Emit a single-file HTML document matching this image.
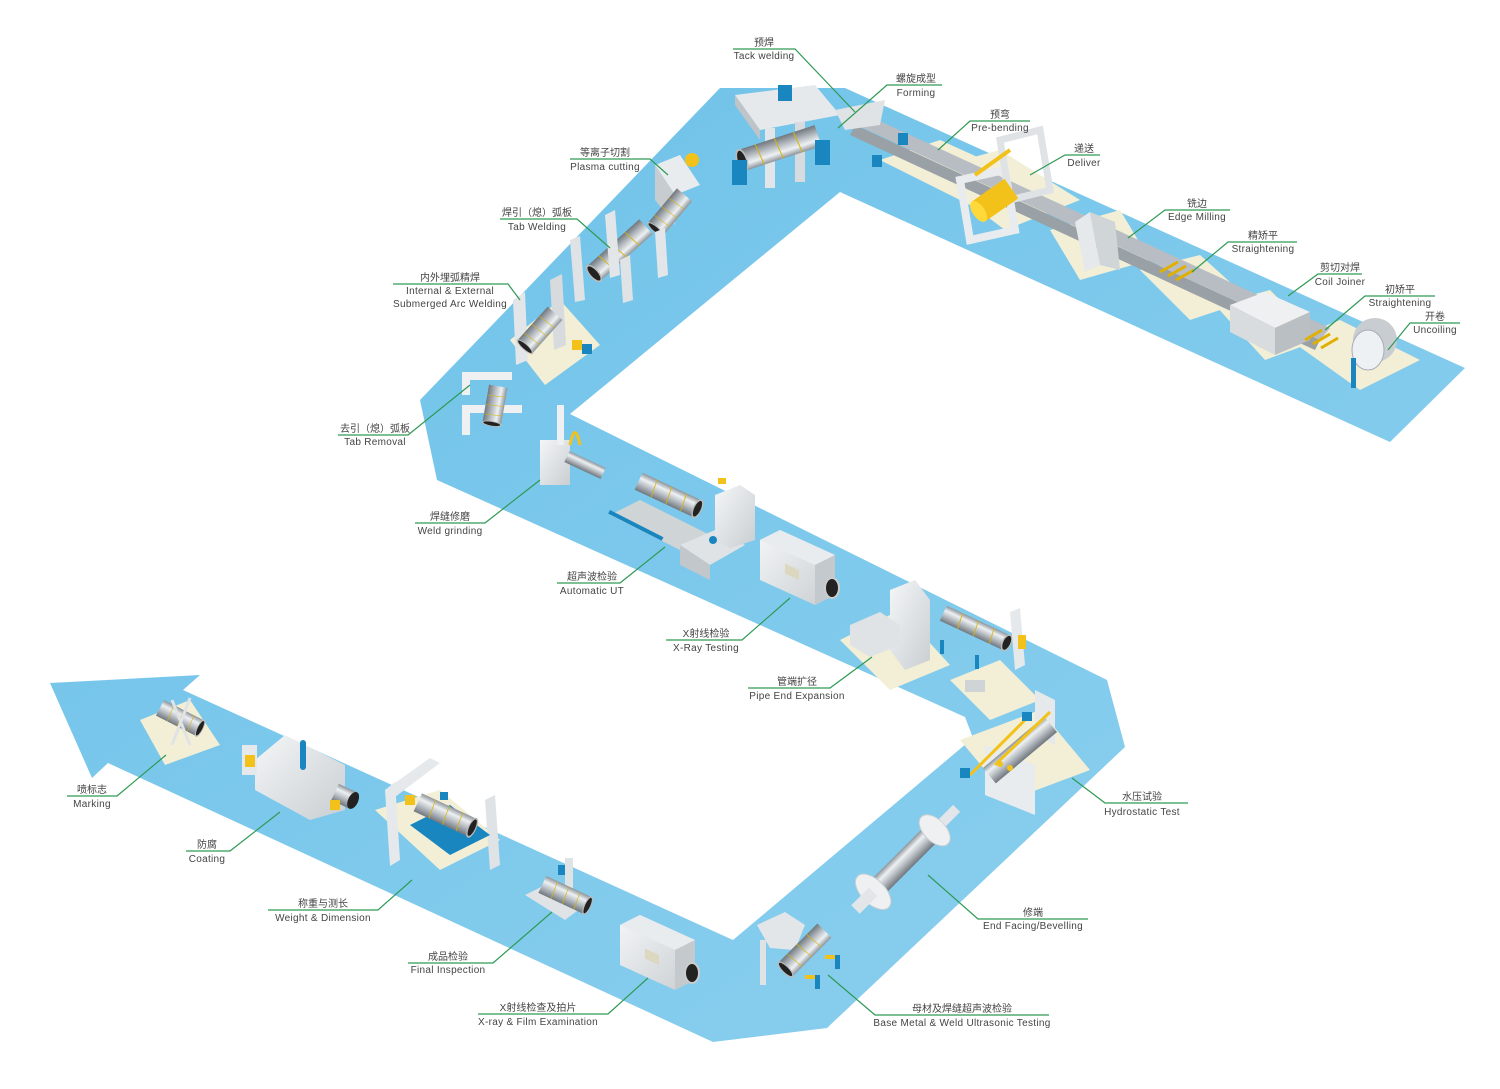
<!DOCTYPE html>
<html><head><meta charset="utf-8">
<style>
html,body{margin:0;padding:0;background:#fff;}
svg{display:block;}
text{font-family:"Liberation Sans","Noto Sans CJK SC",sans-serif;fill:#444;font-size:10px;}
.cn{font-size:10px;}
.en{font-size:10px;letter-spacing:0.3px;}
.ld{stroke:#2f9a55;stroke-width:1.2;fill:none;}
</style></head><body>
<svg width="1500" height="1089" viewBox="0 0 1500 1089" xmlns="http://www.w3.org/2000/svg">
<defs>
<linearGradient id="band" x1="0" y1="0" x2="1" y2="1">
<stop offset="0" stop-color="#6cc0e8"/><stop offset="0.5" stop-color="#7dc9ec"/><stop offset="1" stop-color="#8fd0ee"/>
</linearGradient>
<linearGradient id="steel" x1="0" y1="0" x2="0" y2="1">
<stop offset="0" stop-color="#8c9399"/><stop offset="0.3" stop-color="#eef1f3"/><stop offset="0.6" stop-color="#b9bfc4"/><stop offset="1" stop-color="#70777d"/>
</linearGradient>
<linearGradient id="box" x1="0" y1="0" x2="1" y2="1">
<stop offset="0" stop-color="#f4f6f7"/><stop offset="1" stop-color="#c9ced2"/>
</linearGradient>
<g id="pipe">
<rect x="-50" y="-11" width="100" height="22" fill="url(#steel)"/>
<line x1="-25" y1="-11" x2="-22" y2="11" stroke="#d8b400" stroke-width="1.2"/>
<line x1="0" y1="-11" x2="3" y2="11" stroke="#d8b400" stroke-width="1.2"/>
<line x1="25" y1="-11" x2="28" y2="11" stroke="#d8b400" stroke-width="1.2"/>
<ellipse cx="50" cy="0" rx="6" ry="11" fill="#222" stroke="#bbb" stroke-width="2"/>
</g>
<g id="xray">
<polygon points="0,10 20,0 75,25 75,65 55,75 0,50" fill="url(#box)"/>
<polygon points="0,10 20,0 75,25 55,35" fill="#e9ecee"/>
<polygon points="55,35 75,25 75,65 55,75" fill="#c3c9cd"/>
<rect x="25" y="22" width="14" height="10" fill="#dcd8c0" transform="skewY(25)"/>
<ellipse cx="72" cy="58" rx="7" ry="10" fill="#222" stroke="#ccc" stroke-width="2"/>
</g>
</defs>

<!-- Band -->
<polygon fill="url(#band)" points="720,88 845,88 1465,368 1390,442 840,192 570,414 1107,680 1125,747 827,1028 713,1042 108,763 92,778 50,683 200,675 183,690 733,940 973,738 965,717 437,480 420,400"/>

<!-- platforms (cream) -->
<g fill="#f2efd6">
<polygon points="880,160 940,140 1050,190 990,215"/>
<polygon points="925,170 1000,150 1080,200 1005,230"/>
<polygon points="1050,230 1120,210 1150,260 1080,280"/>
<polygon points="1140,270 1200,255 1250,300 1190,320"/>
<polygon points="1215,305 1270,290 1320,340 1265,360"/>
<polygon points="1290,340 1340,320 1420,360 1360,390"/>
<polygon points="510,340 560,300 600,345 545,385"/>
<polygon points="840,640 900,610 950,665 890,690"/>
<polygon points="950,680 1000,660 1040,700 990,720"/>
<polygon points="960,740 1040,710 1090,770 1010,800"/>
<polygon points="375,810 440,790 500,840 440,870"/>
<polygon points="140,720 190,700 220,745 165,765"/>
</g>

<!-- steel strip top -->
<polygon points="850,122 860,112 1330,328 1320,340" fill="#b7bdc2"/>
<polygon points="855,125 1320,340 1315,350 850,135" fill="#9aa1a6"/>

<!-- Tack welding / forming -->
<polygon points="735,95 815,85 840,115 760,130" fill="#e6e9eb"/>
<polygon points="735,95 760,130 760,140 735,105" fill="#bfc4c8"/>
<rect x="765" y="128" width="10" height="60" fill="#e3e6e8"/>
<rect x="795" y="122" width="10" height="60" fill="#d7dbde"/>
<rect x="778" y="85" width="14" height="16" fill="#1a86c0"/>
<g transform="translate(780,148) rotate(162)"><use href="#pipe" transform="scale(0.8,1)"/></g>
<rect x="732" y="160" width="15" height="25" fill="#1a86c0"/>
<rect x="815" y="140" width="15" height="25" fill="#1a86c0"/>
<polygon points="835,110 885,100 880,125 845,130" fill="#dfe3e5"/>
<rect x="898" y="133" width="10" height="12" fill="#1a86c0"/>
<rect x="872" y="155" width="10" height="12" fill="#1a86c0"/>
<!-- pre-bending frame -->
<polygon points="960,180 1005,170 1015,230 970,240" fill="none" stroke="#e9ecee" stroke-width="8"/>
<polygon points="1000,140 1040,130 1050,190 1010,200" fill="none" stroke="#dfe3e5" stroke-width="7"/>
<g transform="translate(995,200) rotate(-35)"><rect x="-20" y="-12" width="40" height="24" fill="#f2c21a"/><ellipse cx="-20" cy="0" rx="6" ry="12" fill="#ffd83a"/></g>
<line x1="975" y1="175" x2="1010" y2="150" stroke="#f2c21a" stroke-width="4"/>
<!-- edge milling -->
<polygon points="1075,222 1090,212 1100,265 1085,272" fill="#e6e9eb"/>
<polygon points="1090,212 1115,222 1120,270 1100,265" fill="#d0d5d8"/>
<g stroke="#e0b000" stroke-width="3"><line x1="1160" y1="272" x2="1178" y2="262"/><line x1="1168" y1="276" x2="1186" y2="266"/><line x1="1176" y1="280" x2="1194" y2="270"/></g>
<!-- coil joiner -->
<polygon points="1230,305 1265,292 1310,312 1275,328" fill="#eef0f1"/>
<polygon points="1230,305 1275,328 1275,355 1230,332" fill="#d8dcdf"/>
<polygon points="1275,328 1310,312 1310,340 1275,355" fill="#b9bfc3"/>
<g stroke="#e0b000" stroke-width="3"><line x1="1305" y1="340" x2="1322" y2="330"/><line x1="1313" y1="344" x2="1330" y2="334"/><line x1="1321" y1="348" x2="1338" y2="338"/></g>
<ellipse cx="1375" cy="340" rx="22" ry="22" fill="#c8cdd1"/>
<ellipse cx="1368" cy="350" rx="16" ry="20" fill="#eef1f3" stroke="#aab" stroke-width="1"/>
<rect x="1351" y="358" width="5" height="30" fill="#1a86c0"/>

<!-- Plasma cutting -->
<polygon points="655,165 680,155 700,185 675,195" fill="#e9ecee"/>
<polygon points="655,165 675,195 675,225 655,200" fill="#c7ccd0"/>
<circle cx="692" cy="160" r="7" fill="#f2c21a"/>
<g transform="translate(670,212) rotate(130)"><use href="#pipe" transform="scale(0.45,0.9)"/></g>
<!-- Tab welding -->
<g transform="translate(620,250) rotate(138)"><use href="#pipe" transform="scale(0.7,0.9)"/></g>
<polygon points="605,215 615,210 620,275 610,278" fill="#e3e6e8"/>
<polygon points="655,232 665,228 668,275 658,278" fill="#e3e6e8"/>
<polygon points="570,240 580,236 585,300 575,302" fill="#dfe3e5"/>
<polygon points="620,260 630,255 633,300 623,303" fill="#dfe3e5"/>
<!-- SAW -->
<polygon points="513,300 525,292 528,360 516,365" fill="#e3e6e8"/>
<polygon points="550,280 562,274 566,345 554,350" fill="#d7dbde"/>
<g transform="translate(540,330) rotate(132)"><use href="#pipe" transform="scale(0.45,0.9)"/></g>
<rect x="572" y="340" width="10" height="10" fill="#f2c21a"/><rect x="582" y="344" width="10" height="10" fill="#1a86c0"/>
<!-- Tab removal -->
<polygon points="462,372 512,372 512,380 470,380 470,395 462,395" fill="#eef0f1"/>
<polygon points="462,405 522,405 522,413 470,413 470,435 462,435" fill="#eef0f1"/>
<g transform="translate(495,405) rotate(100)"><use href="#pipe" transform="scale(0.38,0.85)"/></g>
<!-- Weld grinding -->
<rect x="540" y="440" width="30" height="45" fill="url(#box)"/>
<rect x="557" y="405" width="7" height="40" fill="#eef0f1"/>
<g transform="translate(585,465) rotate(25)"><rect x="-20" y="-6" width="40" height="12" fill="url(#steel)"/></g>
<path d="M570,445 Q575,420 580,445" stroke="#f2c21a" stroke-width="3" fill="none"/>
<!-- Automatic UT -->
<polygon points="610,515 640,500 720,540 690,555" fill="#cfd4d7"/>
<rect x="610" y="510" width="60" height="4" fill="#1a86c0" transform="rotate(27 610 510)"/>
<g transform="translate(668,495) rotate(25)"><use href="#pipe" transform="scale(0.65,0.85)"/></g>
<polygon points="680,545 715,530 745,545 710,565" fill="#dfe3e5"/>
<polygon points="680,545 710,565 710,580 680,565" fill="#c2c7cb"/>
<polygon points="715,495 740,485 755,495 755,540 730,548 715,540" fill="url(#box)"/>
<circle cx="713" cy="540" r="4" fill="#1a86c0"/>
<rect x="718" y="478" width="8" height="6" fill="#f2c21a"/>
<!-- X-ray testing -->
<use href="#xray" transform="translate(760,530)"/>
<!-- Pipe End Expansion -->
<polygon points="890,590 915,580 930,600 930,660 905,670 890,650" fill="url(#box)"/>
<polygon points="850,625 880,612 900,625 900,645 870,657 850,645" fill="#dfe3e5"/>
<g transform="translate(975,628) rotate(25)"><use href="#pipe" transform="scale(0.7,0.75)"/></g>
<polygon points="1010,612 1020,608 1025,665 1015,670" fill="#e6e9eb"/>
<rect x="1018" y="635" width="8" height="14" fill="#f2c21a"/>
<rect x="940" y="640" width="4" height="14" fill="#1a86c0"/><rect x="975" y="655" width="4" height="14" fill="#1a86c0"/>
<rect x="965" y="680" width="20" height="12" fill="#cfd4d7"/>

<!-- Hydrostatic -->
<polygon points="985,745 1035,765 1035,815 985,795" fill="#e9ecee"/>
<polygon points="1035,690 1055,700 1055,745 1035,735" fill="#e6e9eb"/>
<g transform="translate(1020,750) rotate(-40)"><rect x="-40" y="-10" width="80" height="20" fill="url(#steel)"/></g>
<line x1="970" y1="775" x2="1025" y2="720" stroke="#f2c21a" stroke-width="3"/>
<line x1="995" y1="765" x2="1050" y2="712" stroke="#f2c21a" stroke-width="3"/>
<rect x="960" y="768" width="10" height="10" fill="#1a86c0"/><rect x="1022" y="712" width="10" height="9" fill="#1a86c0"/>
<circle cx="1000" cy="764" r="3" fill="#f2c21a"/><circle cx="1010" cy="768" r="3" fill="#f2c21a"/>
<!-- End facing -->
<g transform="translate(905,860) rotate(-45)">
<rect x="-45" y="-10" width="90" height="20" fill="url(#steel)"/>
<ellipse cx="-45" cy="0" rx="12" ry="22" fill="#eef0f1" stroke="#c8cdd1"/>
<ellipse cx="42" cy="0" rx="11" ry="19" fill="#eef0f1" stroke="#c8cdd1"/>
<rect x="-70" y="-6" width="25" height="12" fill="#e3e6e8"/>
<rect x="53" y="-5" width="20" height="10" fill="#e3e6e8"/>
</g>
<!-- Base metal UT -->
<polygon points="757,925 785,912 805,925 795,950 770,948" fill="#e3e6e8"/>
<rect x="760" y="940" width="6" height="45" fill="#e0e3e5"/>
<g transform="translate(805,950) rotate(135)"><use href="#pipe" transform="scale(0.55,0.9)"/></g>
<rect x="805" y="975" width="12" height="4" fill="#f2c21a"/><rect x="815" y="975" width="5" height="14" fill="#1a86c0"/>
<rect x="825" y="955" width="12" height="4" fill="#f2c21a"/><rect x="835" y="955" width="5" height="14" fill="#1a86c0"/>

<!-- X-ray & film -->
<use href="#xray" transform="translate(620,915)"/>
<!-- final inspection -->
<polygon points="525,895 545,885 585,905 565,920" fill="#dfe3e5"/>
<rect x="565" y="858" width="8" height="30" fill="#dfe3e5"/>
<rect x="558" y="865" width="7" height="10" fill="#1a86c0"/>
<g transform="translate(565,895) rotate(25)"><use href="#pipe" transform="scale(0.5,0.85)"/></g>
<!-- Weight & dimension -->
<polygon points="385,790 395,782 400,860 390,866" fill="#e6e9eb"/>
<polygon points="385,790 430,758 440,763 395,797" fill="#e6e9eb"/>
<polygon points="485,800 495,795 500,865 490,870" fill="#dfe3e5"/>
<polygon points="410,825 450,805 490,835 450,855" fill="#1a86c0"/>
<g transform="translate(445,815) rotate(25)"><use href="#pipe" transform="scale(0.6,0.9)"/></g>
<rect x="405" y="795" width="10" height="10" fill="#f2c21a"/><rect x="440" y="792" width="8" height="8" fill="#1a86c0"/>
<!-- Coating -->
<polygon points="255,760 285,735 345,765 345,810 310,820 255,790" fill="url(#box)"/>
<rect x="300" y="740" width="6" height="30" fill="#1a86c0" rx="3"/>
<rect x="242" y="745" width="15" height="30" fill="#e6e9eb"/><rect x="245" y="755" width="10" height="12" fill="#f2c21a"/>
<g transform="translate(335,792) rotate(25)"><rect x="0" y="-9" width="20" height="18" fill="url(#steel)"/><ellipse cx="20" cy="0" rx="5" ry="9" fill="#222"/></g>
<rect x="330" y="800" width="10" height="10" fill="#f2c21a"/>
<!-- Marking -->
<g transform="translate(180,718) rotate(27)"><use href="#pipe" transform="scale(0.45,0.8)"/></g>
<line x1="172" y1="700" x2="190" y2="745" stroke="#dfe3e5" stroke-width="3"/>
<line x1="190" y1="698" x2="172" y2="745" stroke="#dfe3e5" stroke-width="3"/>

<!-- Labels & leaders -->
<g class="ld">
<polyline points="733,49 795,49 855,112"/>
<polyline points="942,85 887,85 838,128"/>
<polyline points="1030,121 970,121 938,150"/>
<polyline points="1100,155 1065,155 1030,175"/>
<polyline points="1230,210 1165,210 1128,238"/>
<polyline points="1297,242 1228,242 1192,272"/>
<polyline points="1362,274 1318,274 1288,296"/>
<polyline points="1435,296 1365,296 1325,330"/>
<polyline points="1460,323 1410,323 1388,350"/>
<polyline points="570,159 650,159 668,175"/>
<polyline points="500,219 577,219 610,248"/>
<polyline points="393,284 508,284 520,300"/>
<polyline points="338,435 408,435 470,385"/>
<polyline points="415,523 485,523 540,480"/>
<polyline points="557,583 620,583 665,547"/>
<polyline points="666,640 742,640 790,598"/>
<polyline points="748,688 830,688 872,657"/>
<polyline points="1188,803 1105,803 1072,778"/>
<polyline points="1088,919 978,919 928,875"/>
<polyline points="1049,1015 875,1015 828,975"/>
<polyline points="478,1014 608,1014 648,978"/>
<polyline points="408,963 493,963 552,912"/>
<polyline points="268,910 378,910 412,880"/>
<polyline points="186,851 230,851 280,812"/>
<polyline points="67,796 117,796 166,755"/>
</g>
<g text-anchor="middle">
<text x="764" y="46">预焊</text><text x="764" y="59" class="en">Tack welding</text>
<text x="916" y="82">螺旋成型</text><text x="916" y="96" class="en">Forming</text>
<text x="1000" y="118">预弯</text><text x="1000" y="131" class="en">Pre-bending</text>
<text x="1084" y="152">递送</text><text x="1084" y="166" class="en">Deliver</text>
<text x="1197" y="207">铣边</text><text x="1197" y="220" class="en">Edge Milling</text>
<text x="1263" y="239">精矫平</text><text x="1263" y="252" class="en">Straightening</text>
<text x="1340" y="271">剪切对焊</text><text x="1340" y="285" class="en">Coil Joiner</text>
<text x="1400" y="293">初矫平</text><text x="1400" y="306" class="en">Straightening</text>
<text x="1435" y="320">开卷</text><text x="1435" y="333" class="en">Uncoiling</text>
<text x="605" y="156">等离子切割</text><text x="605" y="170" class="en">Plasma cutting</text>
<text x="537" y="216">焊引（熄）弧板</text><text x="537" y="230" class="en">Tab  Welding</text>
<text x="450" y="281">内外埋弧精焊</text><text x="450" y="294" class="en">Internal &amp; External</text><text x="450" y="307" class="en">Submerged Arc Welding</text>
<text x="375" y="432">去引（熄）弧板</text><text x="375" y="445" class="en">Tab Removal</text>
<text x="450" y="520">焊缝修磨</text><text x="450" y="534" class="en">Weld grinding</text>
<text x="592" y="580">超声波检验</text><text x="592" y="594" class="en">Automatic UT</text>
<text x="706" y="637">X射线检验</text><text x="706" y="651" class="en">X-Ray Testing</text>
<text x="797" y="685">管端扩径</text><text x="797" y="699" class="en">Pipe End Expansion</text>
<text x="1142" y="800">水压试验</text><text x="1142" y="815" class="en">Hydrostatic Test</text>
<text x="1033" y="916">修端</text><text x="1033" y="929" class="en">End Facing/Bevelling</text>
<text x="962" y="1012">母材及焊缝超声波检验</text><text x="962" y="1026" class="en">Base Metal &amp; Weld Ultrasonic Testing</text>
<text x="538" y="1011">X射线检查及拍片</text><text x="538" y="1025" class="en">X-ray &amp; Film Examination</text>
<text x="448" y="960">成品检验</text><text x="448" y="973" class="en">Final Inspection</text>
<text x="323" y="907">称重与测长</text><text x="323" y="921" class="en">Weight &amp; Dimension</text>
<text x="207" y="848">防腐</text><text x="207" y="862" class="en">Coating</text>
<text x="92" y="793">喷标志</text><text x="92" y="807" class="en">Marking</text>
</g>
</svg>
</body></html>
